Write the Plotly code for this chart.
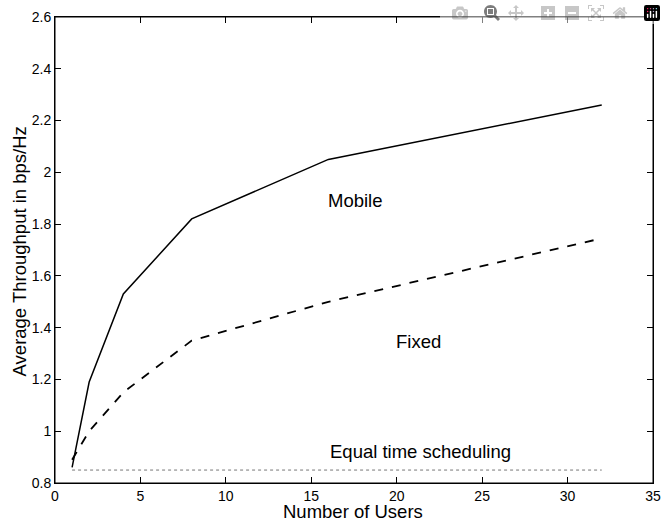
import plotly.graph_objects as go

users = [1, 2, 4, 8, 16, 32]
mobile = [0.86, 1.19, 1.53, 1.82, 2.05, 2.26]
fixed = [0.89, 1.00, 1.15, 1.35, 1.50, 1.745]
equal = [0.85, 0.85, 0.85, 0.85, 0.85, 0.85]

xticks = [0, 5, 10, 15, 20, 25, 30, 35]
yticks = [0.8, 1.0, 1.2, 1.4, 1.6, 1.8, 2.0, 2.2, 2.4, 2.6]
ylabels = ["0.8", "1", "1.2", "1.4", "1.6", "1.8", "2", "2.2", "2.4", "2.6"]

labels = [("Mobile", 17.6, 1.893), ("Fixed", 21.3, 1.347), ("Equal time scheduling", 21.4, 0.92)]
x_title = "Number of Users"
y_title = "Average Throughput in bps/Hz"

fig = go.Figure()
fig.add_trace(go.Scatter(x=users, y=mobile, mode="lines", line=dict(color="black", width=1.5)))
fig.add_trace(go.Scatter(x=users, y=fixed, mode="lines", line=dict(color="black", width=1.8, dash="dash")))
# drawn on the mirrored (top/right) axes, which share identical ranges
fig.add_trace(go.Scatter(x=users, y=equal, mode="lines", xaxis="x2", yaxis="y2",
                         line=dict(color="#777", width=1, dash="dot")))

for t, x, y in labels:
    fig.add_annotation(x=x, y=y, text=t, showarrow=False, font=dict(size=18.5, color="black"))

fig.add_annotation(xref="paper", yref="paper", x=0.498, y=-0.062, text=x_title, showarrow=False,
                   xanchor="center", yanchor="middle", font=dict(size=18.5, color="black"))
fig.add_annotation(xref="paper", yref="paper", x=-0.0594, y=0.498, text=y_title, showarrow=False,
                   textangle=-90, xanchor="center", yanchor="middle", font=dict(size=18.5, color="black"))

fig.add_shape(type="rect", xref="paper", yref="paper", x0=0, y0=0, x1=1, y1=1,
              line=dict(color="black", width=1), layer="above")

font = "Liberation Sans, Arial, sans-serif"
fig.update_layout(
    width=666, height=521,
    margin=dict(l=55, r=13, t=17, b=38),
    plot_bgcolor="white", paper_bgcolor="white",
    showlegend=False,
    font=dict(family=font, color="black", size=14),
    xaxis2=dict(overlaying="x", side="top", range=[0, 35], tickvals=xticks, ticks="inside", ticklen=6,
                tickcolor="black", showticklabels=False, showline=True, linecolor="black", linewidth=1,
                showgrid=False, zeroline=False),
    yaxis2=dict(overlaying="y", side="right", range=[0.8, 2.6], tickvals=yticks, ticks="inside", ticklen=6,
                tickcolor="black", showticklabels=False, showline=True, linecolor="black", linewidth=1,
                showgrid=False, zeroline=False),
)
fig.layout.xaxis.update(range=[0, 35], tickvals=xticks, ticks="inside", ticklen=6, tickcolor="black",
                        showline=True, linecolor="black", linewidth=1, mirror=True, showgrid=False,
                        zeroline=False, automargin=False, tickfont=dict(size=14), ticklabeloverflow="allow")
fig.layout.yaxis.update(range=[0.8, 2.6], tickvals=yticks, ticktext=ylabels, ticks="inside", ticklen=6,
                        tickcolor="black", showline=True, linecolor="black", linewidth=1, mirror=True,
                        showgrid=False, zeroline=False, automargin=False, tickfont=dict(size=14),
                        ticklabeloverflow="allow")
# remove the default page margin and scrollbars so the figure fills the window exactly
fig.write_html("out.html",
               post_script="document.body.style.margin='0';document.body.style.padding='0';"
                           "document.documentElement.style.overflow='hidden';"
                           "document.body.style.overflow='hidden';")
